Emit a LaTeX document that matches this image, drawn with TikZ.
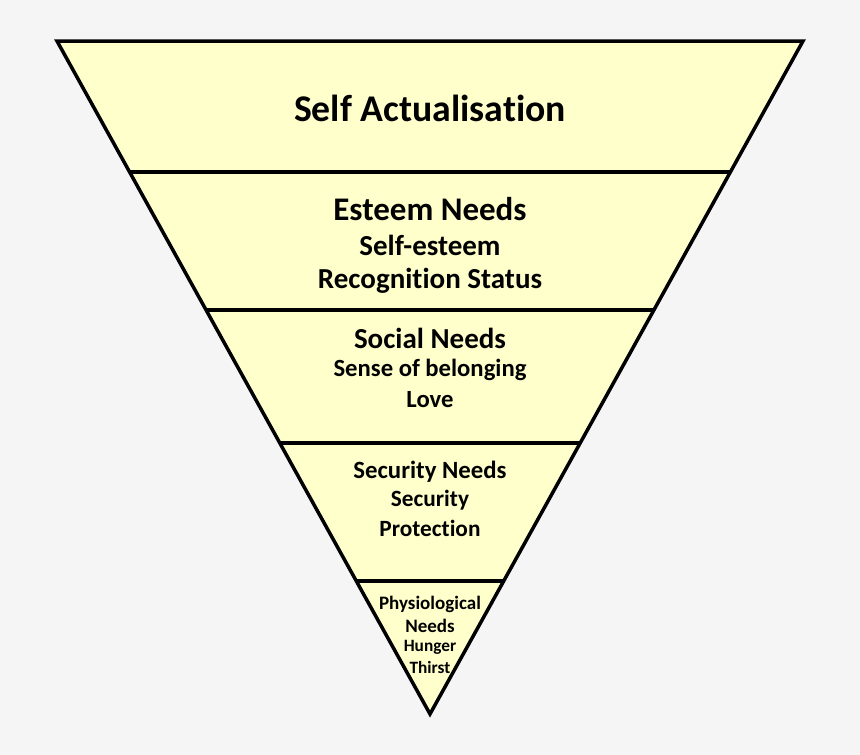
\documentclass[tikz,border=0pt]{standalone}
\usepackage{fontspec}
\setmainfont{Carlito}[Ligatures=NoCommon]
\usetikzlibrary{calc}
\definecolor{bggray}{RGB}{245,245,245}
\definecolor{needyellow}{RGB}{255,255,204}

\begin{document}
\begin{tikzpicture}[x=1pt,y=-1pt,
    need/.style={inner sep=0pt,font=\bfseries},
    sep/.style={line width=3.5pt}]

% Fond
\fill[bggray] (0,0) rectangle (860,755);
\useasboundingbox (0,0) rectangle (860,755);

% Triangle
\coordinate (tl) at (57,41);
\coordinate (tr) at (803,41);
\coordinate (apex) at (430,714);
\draw[sep,fill=needyellow,line join=miter] (tl) -- (tr) -- (apex) -- cycle;

% Niveaux
\foreach \f [count=\i] in {0.1947,0.3997,0.5973,0.8024} {
    \coordinate (l\i) at ($(tl)!\f!(apex)$);
    \coordinate (r\i) at ($(tr)!\f!(apex)$);
    \draw[sep] (l\i) -- (r\i);
}

% Textes
\node[need,font=\bfseries\fontsize{37.7}{40}\selectfont] (self) at (430,108) {Self Actualisation};

\node[need,font=\bfseries\fontsize{33}{36}\selectfont] (esteem) at (430,209) {Esteem Needs};
\node[need,font=\bfseries\fontsize{29}{32}\selectfont] (esteem1) at (430,245) {Self-esteem};
\node[need,font=\bfseries\fontsize{29}{32}\selectfont] (esteem2) at (430,281) {Recognition Status};

\node[need,font=\bfseries\fontsize{29}{32}\selectfont] (social) at (430,338) {Social Needs};
\node[need,font=\bfseries\fontsize{24.7}{27}\selectfont] (social1) at (430,370) {Sense of belonging};
\node[need,font=\bfseries\fontsize{24.7}{27}\selectfont] (social2) at (430,400) {Love};

\node[need,font=\bfseries\fontsize{24.8}{27}\selectfont] (security) at (430,472) {Security Needs};
\node[need,font=\bfseries\fontsize{23.3}{25}\selectfont] (security1) at (430,500) {Security};
\node[need,font=\bfseries\fontsize{23.3}{25}\selectfont] (security2) at (430,528) {Protection};

\node[need,font=\bfseries\fontsize{19}{21}\selectfont] (physio) at (430,604) {Physiological};
\node[need,font=\bfseries\fontsize{19}{21}\selectfont] (physio1) at (430,626) {Needs};
\node[need,font=\bfseries\fontsize{17.3}{20}\selectfont] (physio2) at (430,647) {Hunger};
\node[need,font=\bfseries\fontsize{17.3}{20}\selectfont] (physio3) at (430,667) {Thirst};

\end{tikzpicture}
\end{document}
